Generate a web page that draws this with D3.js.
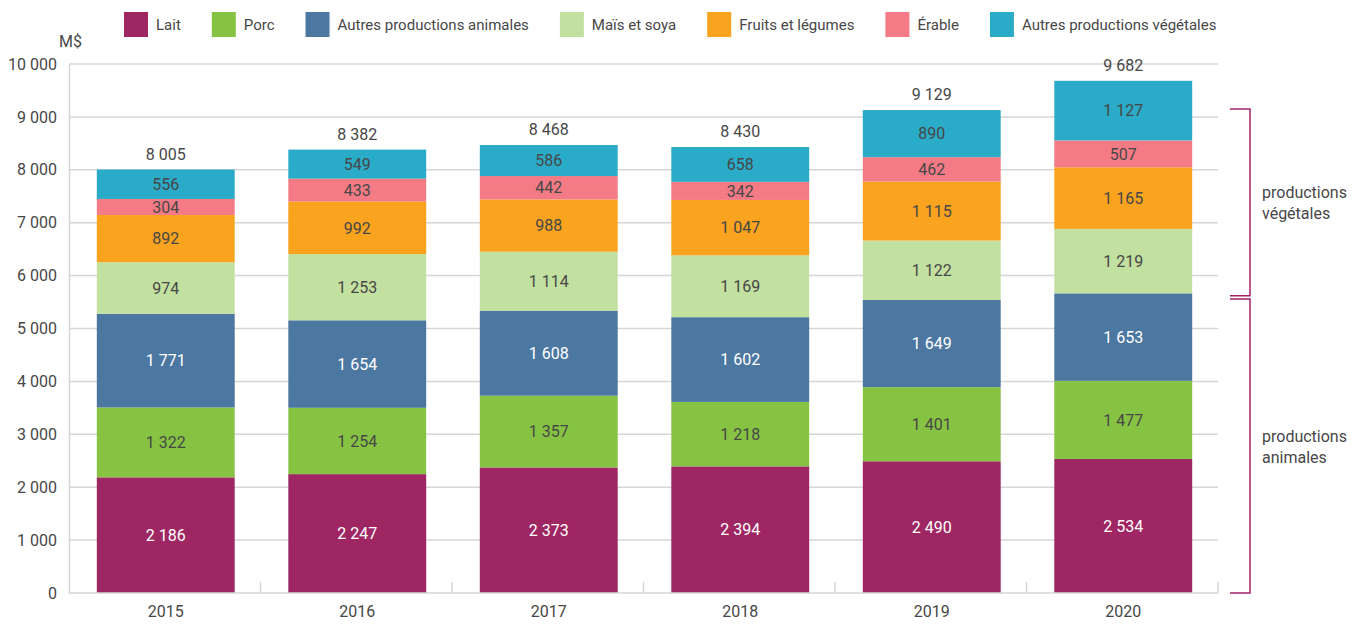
<!DOCTYPE html>
<html lang="fr">
<head>
<meta charset="utf-8">
<script src="https://cdn.jsdelivr.net/npm/d3@7"></script>
<style>
  html, body { margin: 0; padding: 0; background: #fff; }
  svg { display: block; }
  text { font-family: Roboto, "Liberation Sans", sans-serif; }
</style>
</head>
<body>
<svg id="chart" width="1354" height="625"></svg>
<script>
// Recettes monétaires agricoles, en millions de dollars
const years = ["2015", "2016", "2017", "2018", "2019", "2020"];
const lait             = [2186, 2247, 2373, 2394, 2490, 2534];
const porc             = [1322, 1254, 1357, 1218, 1401, 1477];
const autresAnimales   = [1771, 1654, 1608, 1602, 1649, 1653];
const maisSoya         = [974, 1253, 1114, 1169, 1122, 1219];
const fruitsLegumes    = [892, 992, 988, 1047, 1115, 1165];
const erable           = [304, 433, 442, 342, 462, 507];
const autresVegetales  = [556, 549, 586, 658, 890, 1127];
const totals           = [8005, 8382, 8468, 8430, 9129, 9682];
const yTicks = [0, 1000, 2000, 3000, 4000, 5000, 6000, 7000, 8000, 9000, 10000];

const series = [
  { key: "lait", name: "Lait", values: lait, color: "#9e2763", label: "#ffffff" },
  { key: "porc", name: "Porc", values: porc, color: "#86c343", label: "#474747" },
  { key: "aa", name: "Autres productions animales", values: autresAnimales, color: "#4b77a1", label: "#ffffff" },
  { key: "ms", name: "Maïs et soya", values: maisSoya, color: "#c2e0a0", label: "#474747" },
  { key: "fl", name: "Fruits et légumes", values: fruitsLegumes, color: "#f9a31e", label: "#474747" },
  { key: "er", name: "Érable", values: erable, color: "#f47b85", label: "#474747" },
  { key: "av", name: "Autres productions végétales", values: autresVegetales, color: "#2aabc7", label: "#474747" }
];

const fmtSp = v => d3.format(",")(v).replace(/,/g, " ");
const FS = 16;

const svg = d3.select("#chart");
const x0 = 69, x1 = 1218, y0 = 593, y1 = 64;

const x = d3.scaleBand().domain(years).range([x0 + 1, x1 + 1]).paddingInner(0.28).paddingOuter(0.14);
const y = d3.scaleLinear().domain([0, 10000]).range([y0, y1]);

const textColor = "#474747";
const gridColor = "#d6d6d6";

// grid lines
svg.append("g")
  .selectAll("line")
  .data(yTicks.filter(t => t > 0))
  .join("line")
  .attr("x1", x0).attr("x2", x1)
  .attr("y1", d => y(d)).attr("y2", d => y(d))
  .attr("stroke", gridColor).attr("stroke-width", 1.5);

// y axis
const yAxis = svg.append("g")
  .attr("transform", `translate(${x0},0)`)
  .call(d3.axisLeft(y).tickValues(yTicks).tickSize(0).tickPadding(12).tickFormat(fmtSp));
yAxis.select(".domain").attr("stroke", gridColor).attr("stroke-width", 1.5);
yAxis.selectAll("text").attr("font-size", FS).attr("fill", textColor);

svg.append("text")
  .attr("x", 59).attr("y", 47)
  .attr("font-size", FS).attr("fill", textColor)
  .text("M$");

// stacked bars
const rows = years.map((yr, i) => {
  const r = { year: yr };
  series.forEach(s => r[s.key] = s.values[i]);
  return r;
});
const stack = d3.stack().keys(series.map(s => s.key))(rows);

const layers = svg.append("g").selectAll("g")
  .data(stack)
  .join("g")
  .attr("fill", (d, i) => series[i].color);

layers.selectAll("rect")
  .data(d => d)
  .join("rect")
  .attr("x", d => x(d.data.year))
  .attr("width", x.bandwidth())
  .attr("y", d => y(d[1]))
  .attr("height", d => y(d[0]) - y(d[1]));

layers.each(function (layer, i) {
  d3.select(this).selectAll("text")
    .data(layer)
    .join("text")
    .attr("x", d => x(d.data.year) + x.bandwidth() / 2)
    .attr("y", d => (y(d[0]) + y(d[1])) / 2)
    .attr("dy", "0.36em")
    .attr("text-anchor", "middle")
    .attr("font-size", FS)
    .attr("fill", series[i].label)
    .text(d => fmtSp(d[1] - d[0]));
});

// totals above bars
svg.append("g").selectAll("text")
  .data(years)
  .join("text")
  .attr("x", d => x(d) + x.bandwidth() / 2)
  .attr("y", (d, i) => y(totals[i]) - 10)
  .attr("text-anchor", "middle")
  .attr("font-size", FS)
  .attr("fill", textColor)
  .text((d, i) => fmtSp(totals[i]));

// x axis
const xAxis = svg.append("g")
  .attr("transform", `translate(0,${y0})`)
  .call(d3.axisBottom(x).tickSize(0).tickPadding(13));
xAxis.select(".domain").attr("d", `M${x0},0H${x1}`).attr("stroke", gridColor).attr("stroke-width", 1.5);
xAxis.selectAll("text").attr("font-size", FS).attr("fill", textColor);

// separators between years
const sepX = d3.range(1, years.length + 1).map(i => x0 + (x1 - x0) * i / years.length);
svg.append("g").selectAll("line")
  .data(sepX)
  .join("line")
  .attr("x1", d => d).attr("x2", d => d)
  .attr("y1", y0 - 11).attr("y2", y0)
  .attr("stroke", gridColor).attr("stroke-width", 1.5);

// group brackets
const bracketColor = "#a3236b";
const groups = [
  { lines: ["productions", "végétales"], top: 9150, bottom: 5620 },
  { lines: ["productions", "animales"], top: 5560, bottom: 0 }
];
const bx = 1230, bw = 20;
groups.forEach(g => {
  const t = y(g.top), b = y(g.bottom);
  svg.append("path")
    .attr("d", `M${bx},${t}H${bx + bw}V${b}H${bx}`)
    .attr("fill", "none").attr("stroke", bracketColor).attr("stroke-width", 1.5);
  const mid = (t + b) / 2;
  svg.append("text")
    .attr("x", 1262).attr("y", mid - 4)
    .attr("font-size", FS).attr("fill", textColor)
    .selectAll("tspan")
    .data(g.lines)
    .join("tspan")
    .attr("x", 1262)
    .attr("dy", (d, i) => i === 0 ? "0em" : "1.3em")
    .text(d => d);
});

// legend
const legend = svg.append("g");
let lx = 124;
series.forEach(s => {
  const item = legend.append("g").attr("transform", `translate(${lx},0)`);
  item.append("rect").attr("x", 0).attr("y", 12).attr("width", 24).attr("height", 25).attr("fill", s.color);
  const t = item.append("text").attr("x", 32).attr("y", 24.5).attr("dy", "0.36em")
    .attr("font-size", 15).attr("fill", textColor).text(s.name);
  lx += 32 + t.node().getComputedTextLength() + 31;
});
</script>
</body>
</html>
